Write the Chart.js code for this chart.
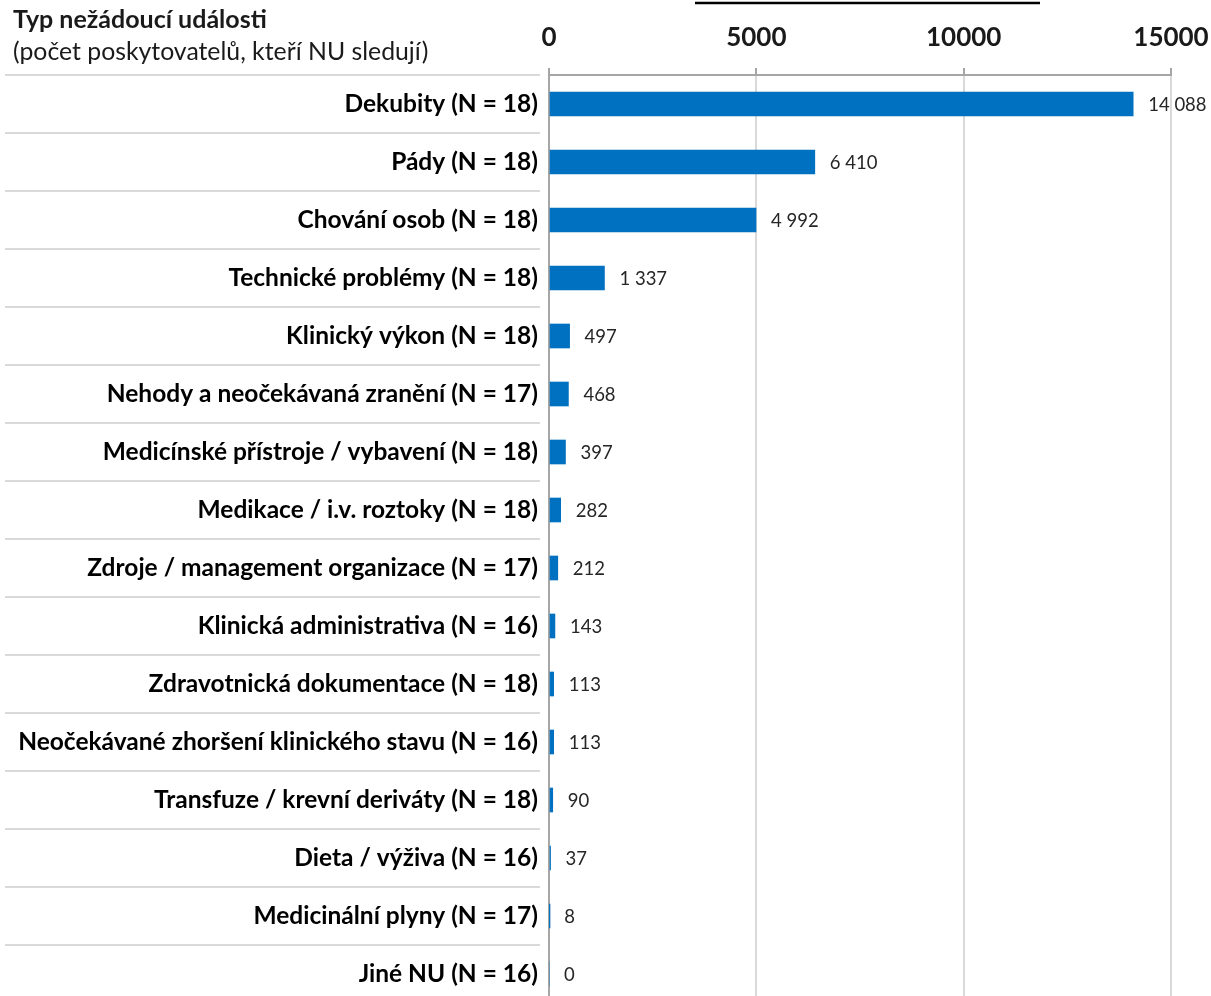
<!DOCTYPE html>
<html>
<head>
<meta charset="utf-8">
<script src="https://cdn.jsdelivr.net/npm/chart.js@4/dist/chart.umd.min.js"></script>
<style>
html,body{margin:0;padding:0;overflow:hidden;background:#fff;}
#wrap{position:relative;width:1211px;height:1003px;}
</style>
</head>
<body>
<div id="wrap"><canvas id="c"></canvas></div>
<script>
const categories = [
  "Dekubity (N = 18)",
  "Pády (N = 18)",
  "Chování osob (N = 18)",
  "Technické problémy (N = 18)",
  "Klinický výkon (N = 18)",
  "Nehody a neočekávaná zranění (N = 17)",
  "Medicínské přístroje / vybavení (N = 18)",
  "Medikace / i.v. roztoky (N = 18)",
  "Zdroje / management organizace (N = 17)",
  "Klinická administrativa (N = 16)",
  "Zdravotnická dokumentace (N = 18)",
  "Neočekávané zhoršení klinického stavu (N = 16)",
  "Transfuze / krevní deriváty (N = 18)",
  "Dieta / výživa (N = 16)",
  "Medicinální plyny (N = 17)",
  "Jiné NU (N = 16)"
];
const values = [14088, 6410, 4992, 1337, 497, 468, 397, 282, 212, 143, 113, 113, 90, 37, 8, 0];
const xTicks = [0, 5000, 10000, 15000];
const headerTitle = "Typ nežádoucí události";
const headerSub = "(počet poskytovatelů, kteří NU sledují)";

const FONT = "Lato";
const fmt = v => String(v).replace(/\B(?=(\d{3})+(?!\d))/g, ' ');

const extras = {
  id: 'extras',
  afterDraw(chart) {
    const ctx = chart.ctx;
    const y = chart.scales.y;
    ctx.save();
    // row separators in label area
    ctx.strokeStyle = '#d9d9d9';
    ctx.lineWidth = 2;
    const step = y.getPixelForValue(1) - y.getPixelForValue(0);
    for (let i = 0; i < categories.length; i++) {
      const yy = Math.round(y.getPixelForValue(i) - step / 2);
      ctx.beginPath();
      ctx.moveTo(5, yy);
      ctx.lineTo(540, yy);
      ctx.stroke();
    }
    // data labels
    ctx.fillStyle = '#262626';
    ctx.font = `18.5px ${FONT}`;
    ctx.textAlign = 'left';
    ctx.textBaseline = 'middle';
    const meta = chart.getDatasetMeta(0);
    meta.data.forEach((bar, i) => {
      ctx.fillText(fmt(values[i]), bar.x + 15, bar.y + 1);
    });
    // header
    ctx.fillStyle = '#1a1a1a';
    ctx.font = `bold 25px ${FONT}`;
    ctx.fillText(headerTitle, 13, 20);
    ctx.font = `24.8px ${FONT}`;
    ctx.fillText(headerSub, 13, 52);
    // cut-off title underline
    ctx.strokeStyle = '#000';
    ctx.lineWidth = 2.5;
    ctx.beginPath();
    ctx.moveTo(695, 3);
    ctx.lineTo(1040, 3);
    ctx.stroke();
    ctx.restore();
  }
};

new Chart(document.getElementById('c'), {
  type: 'bar',
  data: {
    labels: categories,
    datasets: [{
      data: values,
      backgroundColor: '#0070C0',
      borderWidth: 0,
      barThickness: 24
    }]
  },
  options: {
    indexAxis: 'y',
    responsive: true,
    maintainAspectRatio: false,
    animation: false,
    layout: { padding: { left: 0, right: 40, top: 0, bottom: 0 } },
    plugins: { legend: { display: false }, tooltip: { enabled: false } },
    scales: {
      x: {
        position: 'top',
        min: 0,
        max: 15000,
        afterBuildTicks: s => { s.ticks = xTicks.map(v => ({ value: v })); },
        afterFit: s => { s.height = 75; s.paddingLeft = 0; s.paddingRight = 0; },
        grid: { color: '#d9d9d9', lineWidth: 2, tickLength: 7, tickColor: '#a6a6a6', tickWidth: 2 },
        border: { color: '#a6a6a6', width: 2 },
        ticks: {
          padding: 15,
          color: '#1a1a1a',
          font: { family: FONT, size: 26, weight: 'bold' },
          callback: v => String(v)
        }
      },
      y: {
        afterFit: s => { s.width = 549; s.paddingTop = 0; s.paddingBottom = 0; },
        grid: { display: false },
        border: { color: '#a6a6a6', width: 2 },
        ticks: {
          padding: 3,
          color: '#000',
          font: { family: FONT, size: 24.5, weight: 'bold' }
        }
      }
    }
  },
  plugins: [extras]
});
</script>
</body>
</html>
